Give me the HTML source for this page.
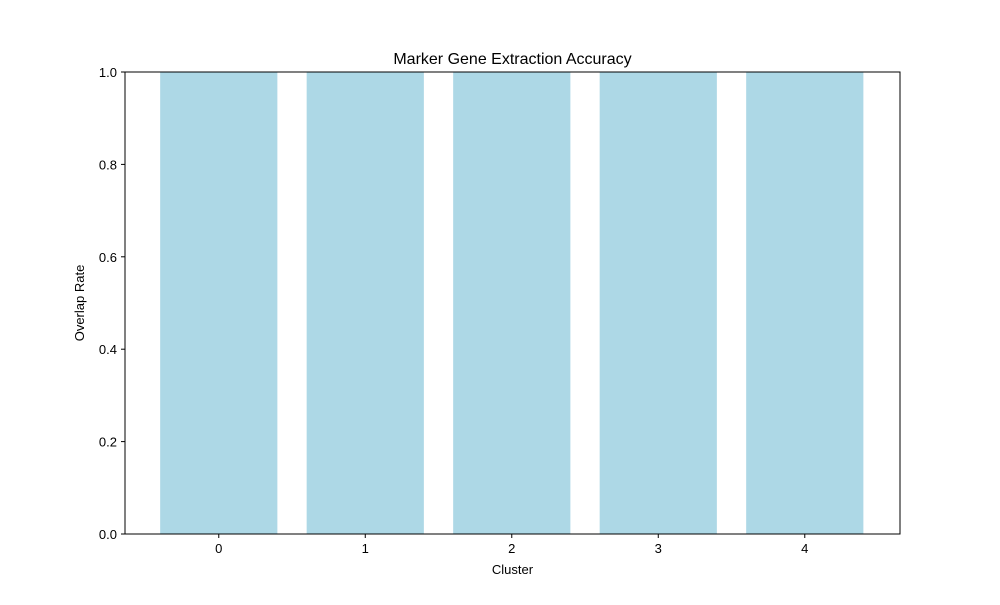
<!DOCTYPE html>
<html><head><meta charset="utf-8"><style>
body{margin:0;background:#fff;font-family:"Liberation Sans","DejaVu Sans",sans-serif;}
</style></head><body>
<svg width="1000" height="600" xmlns="http://www.w3.org/2000/svg">
<rect width="1000" height="600" fill="#fff"/>
<g id="bars"></g>
<g id="xt"></g>
<g id="yt"></g>
<rect x="125" y="72" width="775" height="462" fill="none" stroke="#000" stroke-width="1"/>
<text x="512.5" y="64" text-anchor="middle" font-size="16">Marker Gene Extraction Accuracy</text>
<text x="512.5" y="574" text-anchor="middle" font-size="13">Cluster</text>
<text transform="translate(84,303) rotate(-90)" text-anchor="middle" font-size="13">Overlap Rate</text>
</svg>
<script>
const categories=["0","1","2","3","4"];
const values=[1.0,1.0,1.0,1.0,1.0];
const yTicks=[0.0,0.2,0.4,0.6,0.8,1.0];
const NS="http://www.w3.org/2000/svg";
const L=125,R=900,T=72,B=534,xmin=-0.64,xmax=4.65;
const xs=v=>L+(v-xmin)/(xmax-xmin)*(R-L);
const ys=v=>B-v/1.0*(B-T);
function mk(t,a,p){const e=document.createElementNS(NS,t);for(const k in a)e.setAttribute(k,a[k]);p.appendChild(e);return e;}
const bars=document.getElementById('bars'),xt=document.getElementById('xt'),yt=document.getElementById('yt');
categories.forEach((c,i)=>{
 const r=mk('rect',{x:xs(i-0.4),y:ys(values[i]),width:xs(i+0.4)-xs(i-0.4),height:ys(0)-ys(values[i]),fill:'#add8e6'},bars);
 
 
 const tk=mk('line',{x1:xs(i),x2:xs(i),y1:B,y2:B+4,stroke:'#000'},xt);
 
 
 const t=mk('text',{x:xs(i),y:B+19,'text-anchor':'middle','font-size':13},xt);
 t.textContent=c;
 
 
});
yTicks.forEach(v=>{
 const tk=mk('line',{x1:L-4,x2:L,y1:ys(v),y2:ys(v),stroke:'#000'},yt);
 
 
 const t=mk('text',{x:L-8,y:ys(v)+5,'text-anchor':'end','font-size':13},yt);
 t.textContent=v.toFixed(1);
 
 
});
</script>
</body></html>
